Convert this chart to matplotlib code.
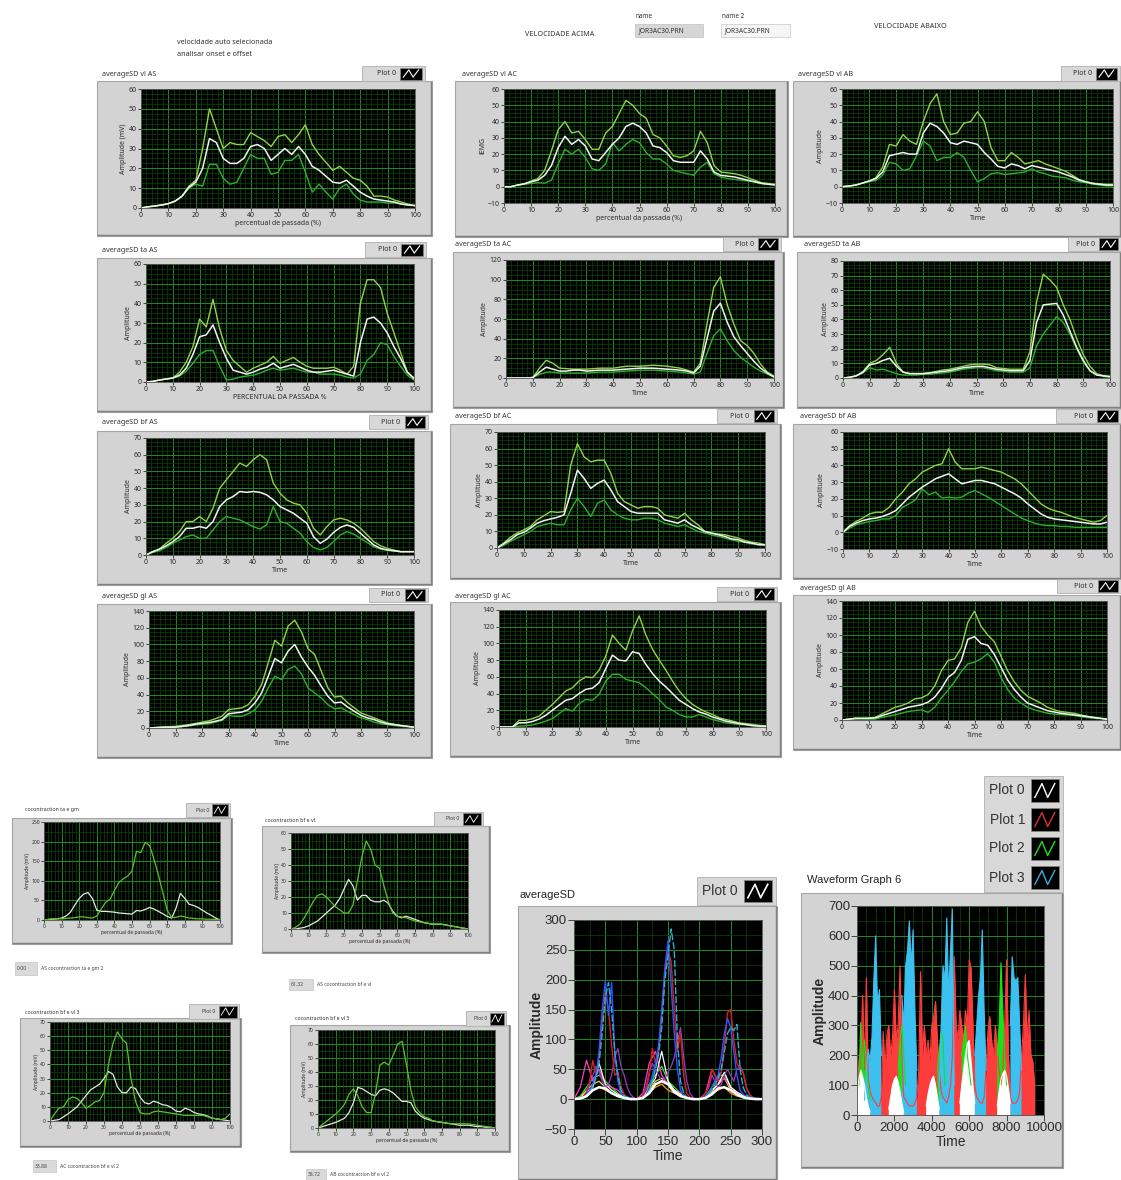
import numpy as np
import matplotlib
matplotlib.use('Agg')
import matplotlib.pyplot as plt
from matplotlib.patches import Rectangle
from matplotlib.ticker import MultipleLocator, AutoMinorLocator

nan = np.nan

# ---------------------------------------------------------------- data
# percent of stride, sampled every 2.5 %
pct = np.arange(0, 100.01, 2.5)

# vastus lateralis
vl_AS_upper = [0, 0.6, 1, 1.5, 2.2, 3.5, 6, 11, 14, 30, 50, 40, 30, 33, 32, 32, 38, 36, 34, 31,
               36, 37, 33, 37, 42, 32, 27, 23, 19, 21, 18, 15, 14, 11, 6, 6, 5.5, 4, 3, 2, 1.2]
vl_AS_mean = [0, 0.6, 1, 1.5, 2.2, 3.5, 6, 10.5, 13, 20, 35, 33, 25, 22.5, 22.5, 25, 31, 32, 30, 24,
              27, 30, 27, 31, 27, 21, 19, 16, 13, 12.5, 14, 11, 8, 6, 4.5, 4, 3.5, 3, 2, 1.5, 1.2]
vl_AS_lower = [0, 0.6, 1, 1.5, 2.2, 3.5, 6, 10, 12, 11, 22, 22, 15, 12, 13, 20, 27, 25, 25, 17,
               18, 24, 24, 27, 18, 8, 12, 8, 4.5, 10, 12, 7, 4, 3, 3, 3, 2.5, 2.5, 2, 1.5, 1.2]

vl_AC_upper = [0, 0, 1, 1.8, 3.5, 5, 10, 22, 35, 40, 33, 34, 29, 23, 23, 33, 37, 45, 53, 50,
               45, 42, 32, 30, 25, 19, 18, 19, 22, 34, 27, 13, 9, 8.5, 8, 7, 5.5, 4, 2.5, 2, 1.5]
vl_AC_mean = [0, 0, 1, 1.8, 3, 4, 7, 13, 24, 31, 26, 29, 25, 17, 16, 21, 26, 30, 37, 39,
              37, 33, 25, 24, 21, 16, 15, 15, 15, 22, 17, 9, 7, 6.5, 6, 5, 4, 3, 2, 1.5, 1]
vl_AC_lower = [0, 0, 1, 1.5, 2, 2.5, 2.2, 4, 14, 23, 20, 23, 18, 11, 10, 14, 27, 22, 26, 29,
               27, 21, 17, 17, 14, 10, 9, 8, 7, 12, 15, 8, 6, 5, 4.5, 4, 3.5, 3, 2, 1.5, 1.5]

vl_AB_upper = [0, 0.4, 1, 2.2, 3.5, 5.5, 12, 26, 25, 32, 28, 26, 40, 51, 57, 40, 32, 33, 39, 40,
               46, 40, 24, 16, 16, 21, 18, 14, 15, 16, 14, 12.5, 11, 9.5, 7, 4.5, 3, 2.2, 1.8, 1.5, 1.5]
vl_AB_mean = [0, 0.4, 1, 2.2, 3.5, 5, 9, 19, 20, 21, 20, 20, 33, 39, 37, 33, 27, 26, 28, 27,
              26, 21, 17, 12.5, 11.5, 14, 13, 11, 13, 12, 11, 10, 9, 7.5, 6, 4, 3, 2, 1.5, 1, 1]
vl_AB_lower = [0, 0.4, 1, 2.2, 3.2, 3.8, 7, 15, 14, 10, 11, 19, 28, 25, 16, 18, 18, 21, 18, 10,
               3, 5, 8, 8.5, 7.5, 8, 8.5, 9, 11, 9, 8, 6.5, 6, 5.5, 4, 3, 2.5, 1.5, 1, 0.5, 0.5]

# tibialis anterior
ta_AS_upper = [0, 0.3, 1, 1.5, 2, 5, 10, 18, 32, 28, 42, 27, 16, 11, 8, 5, 7, 8.5, 10, 13,
               9.5, 11, 12.5, 10, 8, 7, 7, 7, 7.5, 6, 4, 8, 40, 52, 52, 48, 35, 25, 15, 5, 1.5]
ta_AS_mean = [0, 0.3, 1, 1.5, 2, 3.5, 7, 14, 23, 24, 29, 20, 12, 6, 5, 4, 5, 6.5, 7.5, 9.5,
              7, 8, 9, 7.5, 6, 5, 5, 5.5, 6, 5, 4, 3, 20, 32, 33, 30, 25, 18, 12, 5, 2]
ta_AS_lower = [0, 0.3, 1, 1.5, 2, 3, 5.5, 9.5, 14, 16, 16, 8, 1, 1.5, 2.5, 3, 3.5, 4.5, 6, 7,
               6, 6.5, 7, 6, 5, 5, 4, 4, 4, 3.5, 2.5, 2, 4, 11, 14, 20, 19, 13, 8, 3.5, 1]

ta_AC_upper = [0, 0, 0, 0, 0.5, 10, 18, 15, 10, 9.5, 9, 9, 9, 9.5, 10, 10, 10, 11, 12, 12,
               12, 12.5, 13, 12.5, 12, 11, 10, 8, 6, 15, 55, 92, 103, 75, 55, 38, 33, 25, 14, 6, 2]
ta_AC_mean = [0, 0, 0, 0, 0.5, 6, 11, 9, 7, 7, 8, 8, 7, 7.5, 8, 8, 8, 8.5, 9, 9.5,
              10, 10, 10, 9.5, 9, 8.5, 8, 7, 5, 12, 40, 68, 76, 57, 42, 33, 25, 17, 10, 5, 1]
ta_AC_lower = [0, 0, 0, 0, 0.5, 3.5, 6, 6, 5, 5, 5, 5, 5, 5.5, 6, 6, 6, 6.5, 7, 7.5,
               8, 8, 8, 7.5, 7, 6.5, 6, 5, 4, 6, 25, 43, 50, 38, 28, 21, 16, 11, 7, 4, 1]

ta_AB_upper = [0, 0.5, 1.5, 4.5, 10, 12, 16, 21, 10, 4, 3, 3, 3, 3.5, 4.5, 5.5, 6, 7, 8, 9,
               9.5, 9.5, 9, 7, 6.5, 6, 6, 6, 18, 52, 71, 67, 62, 50, 40, 27, 16, 8, 3, 1.5, 1]
ta_AB_mean = [0, 0.5, 1.5, 4, 9, 10, 12, 13.5, 8, 4, 3, 3, 3, 3.5, 4, 4.5, 5, 6, 7, 7.5,
              8, 8, 7, 6, 5.5, 5, 5, 5, 12, 38, 50, 50.5, 51, 43, 32, 21, 12, 5, 2, 1.5, 1]
ta_AB_lower = [0, 0.5, 1.5, 3.5, 7, 5.5, 6, 4.5, 3, 2, 2, 2, 2.5, 2.5, 3, 3.5, 4, 5, 6, 6.5,
               7, 7, 6, 5, 4.5, 4, 4, 4, 7, 22, 30, 36, 42, 38, 30, 20, 11, 5, 2.5, 1, 0.5]

# biceps femoris
bf_AS_upper = [0, 2, 3.5, 7, 10, 14, 20, 20, 23, 20, 28, 40, 45, 50, 55, 53, 57, 60, 57, 43,
               37, 33, 31, 30, 25, 16, 12, 17, 21, 22, 21, 19, 16, 12, 8, 5.5, 4, 3, 2, 2, 2]
bf_AS_mean = [0, 2, 3.5, 5.5, 8, 11, 16, 16, 17, 16, 20, 29, 33, 35, 38, 37.5, 38, 37.5, 36, 33,
              29, 27, 25, 22, 19, 11, 7, 9.5, 13.5, 16.5, 18, 16.5, 13, 9.5, 6, 4, 3, 2.5, 2, 2, 2]
bf_AS_lower = [0, 1.5, 2.5, 4.5, 7, 9, 11, 12, 10, 10, 15, 20, 23, 22, 21, 19, 17, 15.5, 18, 29,
               20, 19, 16, 13, 8, 4.5, 3, 4.5, 8, 12, 14, 12.5, 10, 7.5, 5, 3.5, 3, 2.5, 2, 2, 2]

bf_AC_upper = [0, 3, 6.5, 9, 11, 13, 17, 19.5, 22, 21.5, 22, 50, 63, 55, 52, 53, 53, 45, 33, 28,
               26, 24, 25, 25, 24, 20, 19, 18, 21, 17, 14, 10, 9, 8.5, 8, 7, 6, 4.5, 3.5, 3, 2]
bf_AC_mean = [0, 2.5, 5, 8, 9.5, 12, 15, 16.5, 17.5, 18.5, 20, 33, 47, 42, 36, 39, 41, 35, 28, 25,
              22, 21, 21, 21, 21, 17, 16, 15, 17, 14, 12, 10, 9, 8, 7, 5.5, 5, 3.5, 3, 2, 2]
bf_AC_lower = [0, 1.5, 4, 6, 8, 10, 13, 14, 15, 14, 14, 23, 30, 25, 19, 27, 29, 23, 20, 18,
               17, 17, 18, 18, 17, 15, 14, 13, 14, 12, 10, 9, 8, 7, 6, 5, 4, 3.5, 2.5, 2, 1.5]

bf_AB_upper = [0, 4, 6.5, 8.5, 11, 12, 12, 15, 20, 24, 29, 32, 36, 38, 40, 41, 50, 42, 38, 38,
               38, 39, 38, 37, 36, 34, 32, 29, 25, 21, 17, 14.5, 13, 12, 10.5, 9, 8, 7, 6, 7, 10]
bf_AB_mean = [0, 3.5, 5.5, 7, 8, 8.5, 9.5, 11, 13, 17, 21, 24, 27, 29.5, 32, 33.5, 35, 32, 29, 30,
              31, 31, 30, 29, 27, 25, 23, 20.5, 17, 14, 11, 9, 8, 7.5, 7, 6.5, 6, 5.5, 5, 5, 6]
bf_AB_lower = [0, 2.5, 4.5, 5.5, 6.5, 7, 8, 8, 10, 15, 17, 19.5, 26, 22.5, 24, 20.5, 21, 20.5, 21, 23.5,
               25, 23, 21, 18.5, 16, 13.5, 11, 8.5, 7, 5.5, 4.5, 4, 4, 3.5, 3.5, 3, 3, 3, 3, 3, 3]

# gluteus
gl_AS_upper = [0, 0.5, 1, 1.5, 2, 3, 4, 5.5, 7, 8.5, 11, 14, 22, 23, 24, 28, 38, 52, 78, 105,
               98, 122, 129, 115, 95, 88, 68, 48, 37, 38, 30, 24, 18, 15, 12, 9, 6, 4.5, 3, 2, 1]
gl_AS_mean = [0, 0.5, 1, 1, 1, 2, 3, 4.5, 5.5, 6.5, 8, 10, 17, 18, 19, 22, 30, 42, 62, 83,
              78, 92, 100, 85, 73, 63, 50, 38, 30, 31, 25, 20, 15, 12, 10, 7, 5, 4, 3, 2, 1]
gl_AS_lower = [0, 0.3, 0.5, 0.8, 1, 1.5, 2.5, 3.5, 4.5, 5, 7, 9, 15, 14, 14, 17, 22, 32, 48, 62,
               58, 70, 74, 65, 48, 42, 36, 28, 23, 24, 20, 16, 12, 10, 7, 5, 4, 3, 2, 1.5, 1]

gl_AC_upper = [0, 0, 0, 8, 8, 10, 13, 20, 27, 35, 43, 47, 55, 60, 59, 68, 85, 110, 100, 92,
               115, 133, 110, 93, 80, 68, 55, 43, 34, 27, 22, 18, 15, 11, 9, 7, 5, 4, 3, 2, 1]
gl_AC_mean = [0, 0, 0, 5, 5, 6.5, 9.5, 14, 20, 26, 32, 34, 40, 45, 46.5, 53, 70, 86, 80, 79,
              90, 88, 75, 64, 55, 48, 40, 32, 27, 22, 18, 15.5, 12, 9.5, 7, 5.5, 4, 3, 1.5, 1, 1]
gl_AC_lower = [0, 0, 0, 1, 1.5, 2.5, 4.5, 7, 10, 16, 22, 19, 28, 33, 32, 39, 55, 63, 63, 57,
               55, 53, 47, 40, 33, 24, 20, 15, 12, 12, 15, 12, 9, 7, 5, 4, 3, 2.5, 2, 1.5, 1]

gl_AB_upper = [0, 1, 2, 2, 2.3, 3, 7, 11, 15, 17, 20, 25, 26, 30, 40, 58, 70, 72, 85, 115,
               128, 110, 100, 92, 75, 58, 45, 35, 28, 24, 20, 15, 12, 10, 9, 8, 6, 4.5, 3, 2, 1]
gl_AB_mean = [0, 1, 2, 2, 2, 2.5, 5, 7.5, 10, 12.5, 15, 16.5, 18, 21, 27, 37, 50, 56, 70, 95,
              98, 90, 88, 77, 62, 47, 36, 27, 20, 17, 14, 11, 9.5, 8, 7, 6, 5, 4, 3, 2, 1]
gl_AB_lower = [0, 0.5, 1, 1, 1, 1, 3, 4.5, 6, 8, 10, 11, 12, 9, 15, 26, 35, 45, 57, 66,
               68, 72, 78, 68, 50, 36, 26, 20, 15, 12, 10, 8, 7, 6.5, 6, 5.5, 4, 3, 2, 1.5, 1]

# cocontraction graphs (white and green traces)
coc_ta_gm_white = [0, 1, 2, 3, 5, 10, 20, 38, 55, 66, 70, 55, 25, 22, 22, 21, 20, 18, 17, 16,
                   15, 24, 23, 27, 32, 28, 22, 16, 9, 5, 30, 68, 55, 40, 37, 32, 25, 18, 12, 5, 0]
coc_ta_gm_green = [0, 2, 3, 3, 3, 4, 5, 6, 8, 8, 6, 5, 10, 28, 45, 53, 75, 95, 105, 112,
                   125, 175, 172, 198, 190, 155, 115, 70, 25, 6, 7, 10, 8, 5, 4, 3, 3, 2, 2, 1, 1]
coc_bf_vl_white = [0, 0, 0.5, 1, 2, 3.5, 5, 7.5, 10, 12.5, 15, 19, 25, 31, 27, 18, 21, 21, 18, 17,
                   17, 18, 16, 11, 8, 7, 8, 7, 6, 5, 4, 3.5, 3, 3, 3, 2.5, 2, 1.5, 1, 0.5, 0]
coc_bf_vl_green = [0, 1, 3, 7, 12, 17, 21, 22, 20, 17, 14, 12, 10, 10, 15, 30, 45, 55, 50, 40,
                   38, 27, 17, 10, 8, 7.5, 7, 6, 5, 4.5, 4, 3.5, 3, 3, 3, 2.5, 2, 1.5, 1, 0.5, 0]
coc_bf_vl3_white = [0, 0.5, 1, 3, 5, 7.5, 10, 14, 18, 22, 24, 26, 30, 35, 33, 24, 20, 20, 24, 23,
                    17, 13, 12, 14, 13, 11.5, 11, 9.5, 7, 6.5, 9, 8, 6, 5, 4.5, 3.5, 2, 1.5, 1, 0.5, 0]
coc_bf_vl3_green = [0, 5, 9, 10, 15, 17, 16, 13, 9, 11, 13.5, 14.5, 20, 40, 55, 63, 58, 55, 30, 14,
                    6, 5, 5, 6.5, 7, 6.5, 6, 5.5, 5, 4.5, 4, 4, 4, 4, 4, 3, 2, 1.5, 1, 2, 5]
coc_bf_vl5_white = [0, 1, 2, 3, 4, 5.5, 7, 11, 18, 29, 28, 26, 24, 23, 27, 28, 27, 25, 22, 19,
                    19, 18, 12, 9, 7, 6, 5, 4.5, 4, 3.5, 3, 2.5, 2, 2, 2, 1.5, 1, 1, 0.5, 0.5, 0]
coc_bf_vl5_green = [0, 2.5, 5, 7.5, 10, 13, 17, 24, 28, 23, 15, 11, 11, 25, 45, 47, 45, 52, 60, 62,
                    45, 27, 15, 11, 8, 7, 5, 4.5, 4, 3.5, 3, 3, 3, 3, 3, 2.5, 2, 1.5, 1, 0.5, 0]

# averageSD, all trials (time samples)
avg_t = np.arange(0, 301, 5)
avg_blue = [0, 0, 1, 3, 8, 15, 25, 40, 80, 150, 198, 140, 195, 80, 30, 10, 5, 3, 2, 1,
            0, 0, 3, 8, 20, 40, 60, 90, 150, 220, 265, 190, 110, 50, 15, 5, 2, 1, 0, 0,
            0, 2, 5, 10, 20, 30, 40, 70, 110, 135, 120, 80, 40, 15, 8, 5, 3, 2, 1, 1, 0]
avg_teal = [0, 0, 1, 2, 5, 10, 20, 35, 60, 110, 170, 195, 150, 80, 40, 15, 5, 3, 2, 1,
            0, 0, 2, 6, 15, 30, 50, 75, 120, 200, 240, 285, 250, 100, 30, 10, 3, 1, 0, 0,
            0, 1, 3, 8, 15, 25, 35, 50, 80, 110, 120, 115, 125, 50, 20, 8, 3, 2, 1, 1, 0]
avg_red = [0, 0, 2, 5, 12, 30, 65, 40, 70, 130, 178, 150, 90, 40, 45, 20, 8, 3, 1, 0,
           0, 2, 6, 15, 40, 85, 60, 80, 140, 210, 250, 230, 150, 80, 110, 40, 10, 3, 1, 0,
           0, 3, 10, 20, 50, 40, 30, 45, 90, 145, 150, 100, 60, 50, 45, 20, 8, 3, 1, 1, 0]
avg_purple = [0, 0, 2, 5, 10, 25, 40, 55, 45, 30, 20, 25, 40, 70, 85, 55, 40, 20, 8, 3,
              0, 2, 8, 20, 45, 60, 50, 40, 30, 35, 45, 55, 70, 95, 120, 70, 30, 10, 3, 0,
              0, 3, 10, 20, 40, 30, 20, 25, 40, 50, 40, 30, 50, 55, 45, 20, 8, 3, 1, 1, 0]
avg_t10 = np.arange(0, 301, 10)
avg_white = [0, 2, 12, 20, 60, 25, 15, 8, 3, 1, 0, 2, 20, 35, 80, 30, 15, 8, 3, 1,
             0, 2, 15, 25, 45, 20, 12, 6, 2, 1, 0]
avg_green = [0, 5, 20, 35, 40, 30, 20, 10, 3, 1, 0, 5, 25, 40, 55, 30, 20, 10, 3, 1,
             0, 5, 20, 40, 40, 20, 10, 5, 2, 1, 0]
avg_yellow = [0, 3, 15, 25, 30, 20, 10, 5, 2, 1, 0, 3, 15, 30, 35, 25, 15, 8, 2, 1,
              0, 3, 12, 25, 35, 15, 8, 4, 1, 0, 0]
avg_magenta = [0, 20, 65, 30, 50, 25, 20, 15, 5, 2, 0, 10, 60, 80, 40, 25, 15, 10, 3, 1,
               0, 10, 50, 30, 35, 20, 10, 5, 2, 1, 0]
avg_orange = [0, 2, 10, 15, 20, 15, 10, 5, 2, 0, 0, 3, 10, 20, 25, 15, 10, 5, 2, 0,
              0, 3, 10, 15, 20, 10, 5, 3, 1, 0, 0]
avg_mean = [0, 1, 5, 15, 20, 18, 10, 5, 2, 0, 0, 2, 10, 25, 30, 25, 12, 5, 2, 0,
            0, 2, 8, 18, 20, 15, 8, 3, 1, 0, 0]

# Waveform Graph 6 (values every 100 samples, 0..9500)
wf_t = np.arange(0, 9501, 100)
wf_red = [230, 120, 180, 400, 150, 460, 120, 80, 60, 50,
          40, 30, 30, 60, 280, 150, 270, 300, 200, 260,
          420, 250, 300, 500, 200, 60, 50, 40, 30, 30,
          30, 40, 60, 150, 480, 200, 300, 200, 250, 180,
          300, 330, 380, 250, 150, 80, 60, 50, 40, 60,
          100, 200, 530, 300, 250, 350, 300, 250, 350, 300,
          520, 490, 300, 100, 60, 50, 40, 40, 60, 150,
          280, 330, 250, 200, 300, 220, 150, 100, 150, 300,
          520, 200, 60, 40, 40, 40, 50, 80, 200, 300,
          470, 250, 350, 200, 180, 100]
wf_cyan = [nan, nan, nan, nan, 50, 150, 220, 180, 260, 450,
           600, 370, 420, 200, nan, nan, nan, nan, nan, nan,
           nan, nan, nan, nan, 400, 300, 500, 550, 650, 500,
           620, 350, 150, nan, nan, nan, nan, nan, nan, nan,
           nan, nan, nan, nan, 100, 300, 500, 450, 660, 400,
           550, 690, 100, nan, nan, nan, nan, nan, nan, nan,
           nan, nan, nan, 200, 300, 400, 460, 620, 350, 150,
           nan, nan, nan, nan, nan, nan, nan, nan, nan, nan,
           nan, nan, 300, 530, 460, 450, 460, 300, 150, nan,
           nan, nan, nan, nan, 180, nan]
wf_green = [nan, 100, 310, 150, 250, 180, 100, 50, nan, nan,
            nan, nan, nan, nan, nan, nan, nan, nan, nan, nan,
            nan, nan, 150, 250, 300, 200, 100, nan, nan, nan,
            nan, nan, nan, nan, nan, nan, nan, nan, nan, nan,
            nan, nan, nan, 150, 220, 280, 250, 100, nan, nan,
            nan, nan, nan, nan, nan, nan, 200, 250, 300, 200,
            150, 100, nan, nan, nan, nan, nan, nan, nan, nan,
            nan, nan, nan, nan, nan, 200, 300, 510, 350, 200,
            100, nan, nan, nan, nan, nan, nan, nan, nan, nan,
            nan, nan, nan, nan, nan, nan]
wf_white = [80, 120, 150, 130, 100, 60, 30, 10, nan, nan,
            nan, nan, nan, nan, nan, nan, nan, 20, 60, 100,
            120, 130, 110, 80, 40, 10, nan, nan, nan, nan,
            nan, nan, nan, nan, nan, nan, nan, 30, 70, 100,
            120, 130, 100, 60, 20, nan, nan, nan, nan, nan,
            nan, nan, nan, nan, nan, 40, 100, 150, 200, 240,
            250, 180, 100, 40, nan, nan, nan, nan, nan, nan,
            nan, nan, nan, nan, nan, 30, 80, 120, 140, 150,
            130, 90, 40, nan, nan, nan, nan, nan, nan, nan,
            nan, nan, nan, nan, nan, nan]

# ---------------------------------------------------------------- layout helpers
W, H = 1121, 1180
FONT = ['Noto Sans', 'DejaVu Sans']
NARROW = ['Liberation Sans Narrow', 'Liberation Sans', 'DejaVu Sans']
GRID_MAJ = '#1f8c1f'
GRID_MIN = '#0d440d'
UP_C, MEAN_C, LOW_C = '#93d24a', '#f2f2f2', '#2fae2f'

fig = plt.figure(figsize=(W / 100, H / 100), dpi=100, facecolor='white')
bg = fig.add_axes([0, 0, 1, 1])
bg.set_xlim(0, W)
bg.set_ylim(H, 0)
bg.axis('off')


def px_axes(x0, y0, x1, y1):
    return fig.add_axes([x0 / W, 1 - y1 / H, (x1 - x0) / W, (y1 - y0) / H])


def frame(x0, y0, x1, y1):
    bg.add_patch(Rectangle((x0, y0), x1 - x0, y1 - y0, fc='#d3d3d3', ec='#a5a5a5', lw=0.8))
    bg.plot([x0 + 1, x1 - 1], [y1 - 1, y1 - 1], color='#808080', lw=1.0)
    bg.plot([x1 - 1, x1 - 1], [y0 + 1, y1 - 1], color='#808080', lw=1.0)


def legend_box(x0, y0, x1, y1, entries, fs, family=FONT, lw=0.8):
    bg.add_patch(Rectangle((x0, y0), x1 - x0, y1 - y0, fc='#d8d8d8', ec='#b0b0b0', lw=0.6))
    rh = (y1 - y0) / len(entries)
    for i, (lab, col) in enumerate(entries):
        cy = y0 + i * rh
        ix1 = x1 - (x1 - x0) * 0.05
        ix0 = ix1 - min(rh * 1.45, (x1 - x0) * 0.36)
        iy0, iy1 = cy + rh * 0.1, cy + rh * 0.9
        bg.add_patch(Rectangle((ix0, iy0), ix1 - ix0, iy1 - iy0, fc='black', ec='#888888', lw=0.5))
        zx = ix0 + (ix1 - ix0) * np.array([0.15, 0.4, 0.6, 0.85])
        zy = iy0 + (iy1 - iy0) * np.array([0.8, 0.2, 0.8, 0.2])
        bg.plot(zx, zy, color=col, lw=lw)
        bg.text(ix0 - (x1 - x0) * 0.07, cy + rh / 2, lab, ha='right', va='center',
                fontsize=fs, family=family, color='#333333')


def graph(rect, xlim, ylim, xmaj, ymaj, xlabel, ylabel, fs, lfs=None, family=FONT,
          xminor=5, yminor=4, bold=False):
    ax = px_axes(*rect)
    ax.set_facecolor('black')
    ax.set_xlim(*xlim)
    ax.set_ylim(*ylim)
    ax.xaxis.set_major_locator(MultipleLocator(xmaj))
    ax.yaxis.set_major_locator(MultipleLocator(ymaj))
    ax.xaxis.set_minor_locator(AutoMinorLocator(xminor))
    ax.yaxis.set_minor_locator(AutoMinorLocator(yminor))
    ax.grid(True, which='minor', color=GRID_MIN, lw=0.5)
    ax.grid(True, which='major', color=GRID_MAJ, lw=0.7)
    ax.set_axisbelow(True)
    ax.tick_params(which='major', direction='out', length=2, width=0.6, pad=1,
                   labelsize=fs, colors='#2a2a2a', labelfontfamily=family)
    ax.tick_params(which='minor', length=0)
    for s in ax.spines.values():
        s.set_color('#505050')
        s.set_linewidth(0.6)
    lfs = lfs or fs
    weight = 'bold' if bold else 'normal'
    ax.set_xlabel(xlabel, fontsize=lfs, family=family, labelpad=0.5, color='#2a2a2a')
    ax.set_ylabel(ylabel, fontsize=lfs, family=family, labelpad=1, color='#2a2a2a',
                  fontweight=weight)
    return ax


# ---------------------------------------------------------------- header texts
hfs = 5.2
bg.text(177, 42, 'velocidade auto selecionada', fontsize=hfs, family=FONT, va='center', color='#333')
bg.text(177, 54, 'analisar onset e offset', fontsize=hfs, family=FONT, va='center', color='#333')
bg.text(525, 34, 'VELOCIDADE ACIMA', fontsize=hfs, family=FONT, va='center', color='#333')
bg.text(874, 27, 'VELOCIDADE ABAIXO', fontsize=hfs, family=FONT, va='center', color='#333')
bg.text(636, 16, 'name', fontsize=4.6, family=FONT, va='center', color='#333')
bg.add_patch(Rectangle((635, 24), 68, 13, fc='#d6d6d6', ec='#c0c0c0', lw=0.5))
bg.text(639, 31, 'JOR3AC30.PRN', fontsize=4.8, family=FONT, va='center', color='#333')
bg.text(722, 16, 'name 2', fontsize=4.6, family=FONT, va='center', color='#333')
bg.add_patch(Rectangle((721, 24), 69, 13, fc='#f6f6f6', ec='#c8c8c8', lw=0.5))
bg.text(725, 31, 'JOR3AC30.PRN', fontsize=4.8, family=FONT, va='center', color='#333')

# ---------------------------------------------------------------- main average +/- SD graphs
main_panels = [
    ('averageSD vl AS', (102, 75), (362, 66, 425, 81), (97, 81, 432, 236), (141, 89, 415, 208),
     (0, 60), 10, 'percentual de passada (%)', 'Amplitude (mV)', (vl_AS_upper, vl_AS_mean, vl_AS_lower)),
    ('averageSD vl AC', (462, 75), None, (455, 81, 788, 237), (504, 89, 775, 203),
     (-10, 60), 10, 'percentual da passada (%)', 'iEMG', (vl_AC_upper, vl_AC_mean, vl_AC_lower)),
    ('averageSD vl AB', (798, 75), (1061, 66, 1120, 81), (793, 81, 1121, 237), (842, 89, 1113, 203),
     (-10, 60), 10, 'Time', 'Amplitude', (vl_AB_upper, vl_AB_mean, vl_AB_lower)),
    ('averageSD ta AS', (102, 250), (365, 242, 426, 257), (97, 258, 432, 412), (146, 264, 414, 382),
     (0, 60), 10, 'PERCENTUAL DA PASSADA %', 'Amplitude', (ta_AS_upper, ta_AS_mean, ta_AS_lower)),
    ('averageSD ta AC', (455, 245), (723, 237, 781, 251), (453, 252, 784, 408), (506, 260, 774, 378),
     (0, 120), 20, 'Time', 'Amplitude', (ta_AC_upper, ta_AC_mean, ta_AC_lower)),
    ('averageSD ta AB', (804, 245), (1068, 237, 1121, 251), (797, 252, 1121, 408), (843, 261, 1110, 378),
     (0, 80), 10, 'Time', 'Amplitude', (ta_AB_upper, ta_AB_mean, ta_AB_lower)),
    ('averageSD bf AS', (102, 423), (369, 415, 428, 429), (97, 431, 432, 585), (146, 438, 414, 555),
     (0, 70), 10, 'Time', 'Amplitude', (bf_AS_upper, bf_AS_mean, bf_AS_lower)),
    ('averageSD bf AC', (455, 417), (717, 409, 777, 423), (450, 424, 781, 579), (497, 432, 765, 548),
     (0, 70), 10, 'Time', 'Amplitude', (bf_AC_upper, bf_AC_mean, bf_AC_lower)),
    ('averageSD bf AB', (800, 417), (1056, 409, 1121, 423), (793, 424, 1121, 579), (843, 432, 1107, 549),
     (-10, 60), 10, 'Time', 'Amplitude', (bf_AB_upper, bf_AB_mean, bf_AB_lower)),
    ('averageSD gl AS', (102, 596), (369, 588, 428, 602), (97, 604, 432, 758), (149, 611, 414, 728),
     (0, 140), 20, 'Time', 'Amplitude', (gl_AS_upper, gl_AS_mean, gl_AS_lower)),
    ('averageSD gl AC', (455, 596), (717, 587, 777, 601), (450, 602, 781, 757), (499, 610, 766, 727),
     (0, 140), 20, 'Time', 'Amplitude', (gl_AC_upper, gl_AC_mean, gl_AC_lower)),
    ('averageSD gl AB', (800, 588), (1057, 579, 1121, 593), (793, 595, 1121, 750), (842, 601, 1107, 720),
     (0, 140), 20, 'Time', 'Amplitude', (gl_AB_upper, gl_AB_mean, gl_AB_lower)),
]

for title, tpos, leg, frm, rect, ylim, ystep, xlab, ylab, curves in main_panels:
    frame(*frm)
    bg.text(tpos[0], tpos[1], title, fontsize=5.2, family=FONT, va='center', color='#333')
    if leg:
        legend_box(*leg, [('Plot 0', 'white')], fs=5.2)
    ax = graph(rect, (0, 100), ylim, 10, ystep, xlab, ylab, fs=5.0)
    up, mean, low = curves
    ax.plot(pct, low, color=LOW_C, lw=1.0)
    ax.plot(pct, up, color=UP_C, lw=1.0)
    ax.plot(pct, mean, color=MEAN_C, lw=1.1)

# ---------------------------------------------------------------- cocontraction graphs
small_panels = [
    ('cocontraction ta e gm', (25, 809), (186, 803, 230, 817), (12, 818, 232, 944), (44, 822, 220, 920),
     (0, 250), 50, coc_ta_gm_white, coc_ta_gm_green, '0.00', (15, 962, 37, 975), 'AS cocontraction ta e gm 2'),
    ('cocontraction bf e vl', (265, 820), (434, 812, 483, 826), (262, 826, 490, 953), (291, 833, 468, 929),
     (0, 60), 10, coc_bf_vl_white, coc_bf_vl_green, '61.32', (289, 979, 313, 990), 'AS cocontraction bf e vl'),
    ('cocontraction bf e vl 3', (25, 1012), (189, 1004, 239, 1019), (20, 1018, 241, 1147), (50, 1022, 230, 1121),
     (0, 70), 10, coc_bf_vl3_white, coc_bf_vl3_green, '33.88', (33, 1160, 56, 1172), 'AC cocontraction bf e vl 2'),
    ('cocontraction bf e vl 5', (295, 1019), (466, 1011, 506, 1026), (290, 1025, 510, 1152), (318, 1030, 495, 1128),
     (0, 70), 10, coc_bf_vl5_white, coc_bf_vl5_green, '38.72', (306, 1169, 326, 1180), 'AB cocontraction bf e vl 2'),
]

for title, tpos, leg, frm, rect, ylim, ystep, white, green, val, vbox, vlab in small_panels:
    frame(*frm)
    bg.text(tpos[0], tpos[1], title, fontsize=3.8, family=FONT, va='center', color='#333')
    legend_box(*leg, [('Plot 0', 'white')], fs=3.6, lw=0.6)
    ax = graph(rect, (0, 100), ylim, 10, ystep, 'percentual de passada (%)', 'Amplitude (mV)',
               fs=3.6, yminor=2)
    ax.plot(pct, white, color='#e6e6e6', lw=0.9)
    ax.plot(pct, green, color='#5cc22c', lw=0.9)
    bg.add_patch(Rectangle((vbox[0], vbox[1]), vbox[2] - vbox[0], vbox[3] - vbox[1],
                           fc='#dadada', ec='#c4c4c4', lw=0.5))
    bg.text(vbox[0] + 2, (vbox[1] + vbox[3]) / 2, val, fontsize=3.6, family=FONT, va='center', color='#444')
    bg.text(vbox[2] + 4, (vbox[1] + vbox[3]) / 2, vlab, fontsize=3.6, family=FONT, va='center', color='#444')

# ---------------------------------------------------------------- averageSD (all trials)
frame(518, 906, 777, 1180)
bg.text(520, 895, 'averageSD', fontsize=8, family=NARROW, va='center', color='#222')
legend_box(697, 877, 776, 905, [('Plot 0', 'white')], fs=10, family=NARROW, lw=1.2)
ax = graph((574, 920, 762, 1129), (0, 300), (-50, 300), 50, 50, 'Time', 'Amplitude', fs=9.5,
           lfs=10, family=NARROW, xminor=2, yminor=2, bold=True)
ax.tick_params(which='major', length=4)
ax.plot(avg_t10, avg_orange, color='#ff9a20', lw=0.9)
ax.plot(avg_t10, avg_yellow, color='#e8e23a', lw=0.9)
ax.plot(avg_t10, avg_green, color='#2ee62e', lw=0.9)
ax.plot(avg_t10, avg_magenta, color='#ff3cc8', lw=0.9)
ax.plot(avg_t10, avg_white, color='#ffffff', lw=0.9)
ax.plot(avg_t, avg_purple, color='#9a38c8', lw=0.9)
ax.plot(avg_t, avg_red, color='#d62020', lw=1.0)
ax.plot(avg_t, avg_blue, color='#3652ff', lw=1.0)
ax.plot(avg_t, avg_teal, color='#2ab0d0', lw=1.0, ls=(0, (5, 1.5)))
ax.plot(avg_t10, avg_mean, color='#ffffff', lw=1.8)

# ---------------------------------------------------------------- Waveform Graph 6
frame(801, 893, 1063, 1168)
bg.text(807, 880, 'Waveform Graph 6', fontsize=8, family=NARROW, va='center', color='#222')
legend_box(984, 776, 1063, 892, [('Plot 0', 'white'), ('Plot 1', '#e03030'),
                                 ('Plot 2', '#20e020'), ('Plot 3', '#3aa8e0')],
           fs=10, family=NARROW, lw=1.0)
ax = graph((857, 906, 1044, 1115), (0, 10000), (0, 700), 2000, 100, 'Time', 'Amplitude', fs=9.5,
           lfs=10, family=NARROW, xminor=4, yminor=2, bold=True)
ax.tick_params(which='major', length=4)
for series, col in ((wf_red, '#ff3c3c'), (wf_green, '#19e019'), (wf_cyan, '#3cc0f0'), (wf_white, '#ffffff')):
    vals = np.array(series, dtype=float)
    ax.fill_between(wf_t, 0, vals, color=col, lw=0)
    ax.plot(wf_t, vals, color=col, lw=0.8)

fig.savefig('out.png', dpi=100, facecolor='white')
